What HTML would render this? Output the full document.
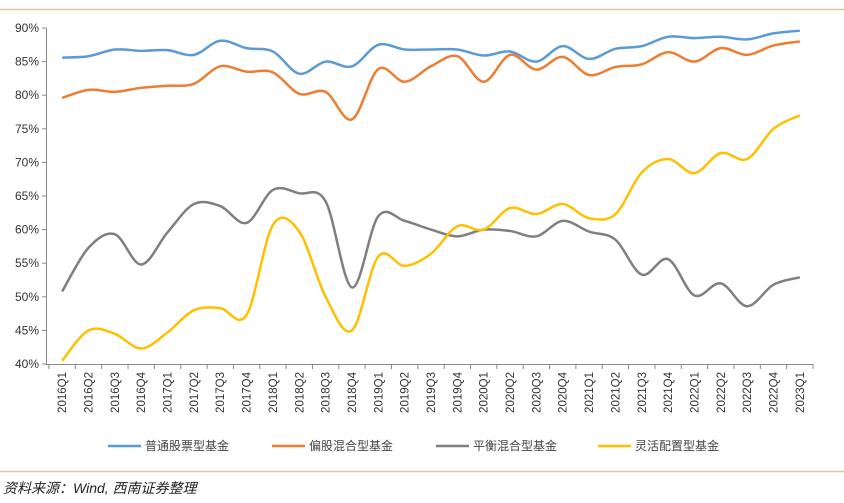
<!DOCTYPE html><html><head><meta charset="utf-8"><style>
body{margin:0;background:#fff;width:844px;height:498px;overflow:hidden;font-family:"Liberation Sans","Noto Sans CJK SC",sans-serif}
</style></head><body>
<svg id="s" width="844" height="498" xmlns="http://www.w3.org/2000/svg">
<line x1="0" y1="9.5" x2="844" y2="9.5" stroke="#d9c7a0" stroke-width="1.5"/>
<line x1="0" y1="471.5" x2="844" y2="471.5" stroke="#d9c7a0" stroke-width="1.5"/>
<g id="ax" font-size="12" fill="#333"></g>
<g id="lines"></g>
<g font-size="12" font-family="'Noto Sans CJK SC',sans-serif" fill="#444">
<line x1="108" y1="446" x2="141" y2="446" stroke="#5b9bd5" stroke-width="2.5"/><text x="145" y="450">普通股票型基金</text>
<line x1="272" y1="446" x2="305" y2="446" stroke="#ed7d31" stroke-width="2.5"/><text x="309" y="450">偏股混合型基金</text>
<line x1="436" y1="446" x2="469" y2="446" stroke="#7f7f7f" stroke-width="2.5"/><text x="473" y="450">平衡混合型基金</text>
<line x1="598" y1="446" x2="631" y2="446" stroke="#ffc000" stroke-width="2.5"/><text x="635" y="450">灵活配置型基金</text>
</g>
<text x="3" y="493" font-size="14" font-style="italic" fill="#222" font-family="'Liberation Sans','Noto Sans CJK SC',sans-serif">资料来源：Wind,  西南证券整理</text>
</svg>
<script>
var s=document.getElementById('ax'),L=document.getElementById('lines'),NS="http://www.w3.org/2000/svg";
function el(t,a,p){var e=document.createElementNS(NS,t);for(var k in a)e.setAttribute(k,a[k]);(p||s).appendChild(e);return e;}
var X0=49,X1=813,n=29,dx=(X1-X0)/n;
function Y(v){return 28+(90-v)*6.72;}
el('line',{x1:46.5,y1:28,x2:46.5,y2:364,stroke:'#888'});
el('line',{x1:46,y1:364.5,x2:X1,y2:364.5,stroke:'#888'});
for(var v=40;v<=90;v+=5){var y=Y(v);el('line',{x1:42,y1:y,x2:46,y2:y,stroke:'#888'});var t=el('text',{x:39,y:y+4,'text-anchor':'end'});t.textContent=v+'%';}
var k=0;for(var yr=2016;yr<=2023;yr++)for(var q=1;q<=4;q++){if(k>=n)break;var x=X0+dx*(k+0.5);
el('line',{x1:X0+dx*k,y1:364,x2:X0+dx*k,y2:369,stroke:'#888'});
var t=el('text',{x:0,y:0,transform:'translate('+(x+4)+',372) rotate(-90)','text-anchor':'end','font-size':'11.5'});t.textContent=yr+'Q'+q;k++;}
el('line',{x1:X1,y1:364,x2:X1,y2:369,stroke:'#888'});
var D=[["#5b9bd5",[85.6,85.8,86.8,86.6,86.7,86.0,88.1,87.0,86.5,83.2,85.0,84.3,87.5,86.8,86.8,86.8,85.9,86.5,85.0,87.3,85.4,86.9,87.3,88.7,88.5,88.7,88.3,89.2,89.6]],
["#ed7d31",[79.6,80.8,80.5,81.1,81.4,81.7,84.3,83.5,83.4,80.2,80.5,76.4,83.9,82.0,84.3,85.8,82.0,86.0,83.8,85.7,83.0,84.2,84.6,86.4,85.0,87.0,86.0,87.4,88.0]],
["#7f7f7f",[50.8,57.3,59.3,54.8,59.6,63.8,63.5,61.0,65.9,65.4,64.2,51.4,62.0,61.3,60.0,59.0,60.0,59.8,59.0,61.3,59.7,58.5,53.3,55.6,50.2,52.0,48.6,51.8,52.9]],
["#ffc000",[40.5,45.0,44.5,42.3,44.7,48.0,48.3,47.3,60.7,59.7,50.0,45.0,56.0,54.6,56.4,60.5,60.0,63.2,62.3,63.8,61.7,62.3,68.5,70.5,68.4,71.4,70.5,75.0,77.0]]];
D.forEach(function(d){var p=d[1].map(function(v,i){return[X0+dx*(i+0.5),Y(v)];});var s2="M"+p[0];
for(var i=0;i<p.length-1;i++){var a=p[i-1]||p[i],b=p[i],c=p[i+1],e=p[i+2]||c;
s2+=" C"+(b[0]+(c[0]-a[0])/6)+","+(b[1]+(c[1]-a[1])/6)+" "+(c[0]-(e[0]-b[0])/6)+","+(c[1]-(e[1]-b[1])/6)+" "+c;}
el('path',{d:s2,fill:'none',stroke:d[0],'stroke-width':2.5},L);});
</script>
</body></html>
